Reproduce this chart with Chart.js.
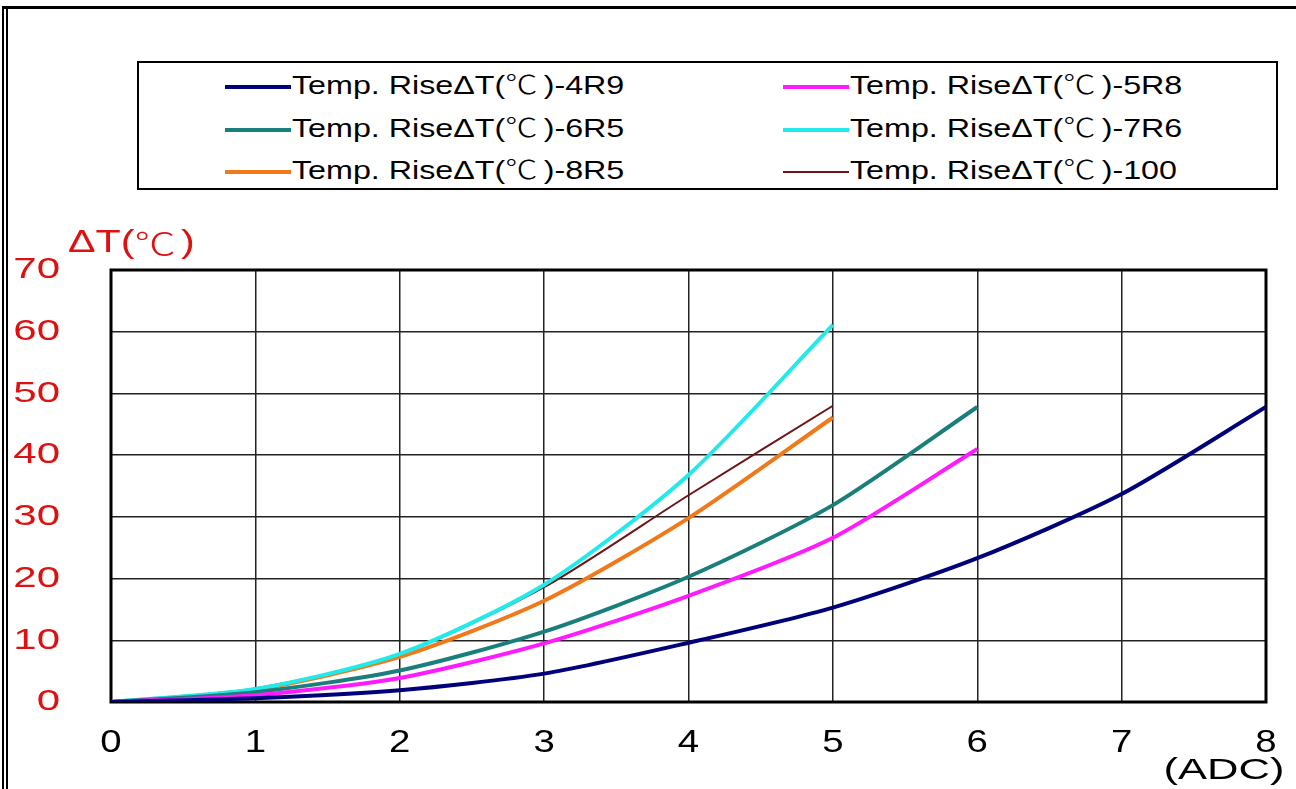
<!DOCTYPE html>
<html>
<head>
<meta charset="utf-8">
<script src="https://cdn.jsdelivr.net/npm/chart.js"></script>
<style>
  html, body { margin: 0; padding: 0; background: #fff; }
  #wrap { position: relative; width: 1296px; height: 789px; }
  #legend {
    position: absolute; left: 137px; top: 61px; width: 1137px; height: 125px;
    border: 2px solid #000; background: #fff;
    font-family: "Liberation Sans", Arial, sans-serif; font-size: 26px; color: #000;
  }
  .item { position: absolute; height: 30px; line-height: 30px; white-space: nowrap; }
  .item span.ln { display: inline-block; width: 66px; vertical-align: middle; margin-right: 1px; }
  .item span.tx { display: inline-block; transform: scaleX(1.24); transform-origin: 0 50%; }
  .cel { font-family: "Noto Sans CJK SC", sans-serif; font-weight: 300; margin-right: 5px; }
</style>
</head>
<body>
<div id="wrap">
  <canvas id="canvas" width="1296" height="789"></canvas>
  <div id="legend"></div>
</div>
<script>
// current (ADC) and temperature rise values
let current = [0, 1, 2, 3, 4, 5, 6, 7, 8];
let names = ["4R9", "5R8", "6R5", "7R6", "8R5", "100"];
let rise4R9 = [0, 0.6, 1.9, 4.6, 9.6, 15.3, 23.3, 33.7, 47.8];
let rise5R8 = [0, 1.1, 3.9, 9.5, 17.2, 26.6, 41.0];
let rise6R5 = [0, 1.6, 5.1, 11.4, 20.3, 31.9, 47.8];
let rise7R6 = [0, 2.1, 7.8, 19.0, 36.8, 61.1];
let rise8R5 = [0, 2.0, 7.3, 16.4, 29.8, 46.1];
let rise100 = [0, 2.2, 7.7, 18.6, 33.5, 48.0];
let yTicks = [0, 10, 20, 30, 40, 50, 60, 70];
let xTicks = [0, 1, 2, 3, 4, 5, 6, 7, 8];

let colors = ["#00007a", "#ff1aff", "#1a7f7a", "#22eaea", "#f07a1a", "#6e1414"];
let widths = [4, 4, 4, 4, 4, 2];
let series = [rise4R9, rise5R8, rise6R5, rise7R6, rise8R5, rise100];
let FONT = "'Liberation Sans', Arial, sans-serif";
let CJK = "'Noto Sans CJK SC', sans-serif";

function pts(vals){
  let out = [];
  for (var i = 0; i < vals.length; i++) {
    out.push({x: current[i], y: vals[i]});
  }
  return out;
}

let datasets = [];
for (var i = 0; i < series.length; i++) {
  datasets.push({
    label: "Temp. RiseΔT(℃)-" + names[i],
    data: pts(series[i]),
    borderColor: colors[i],
    backgroundColor: colors[i],
    borderWidth: widths[i],
    pointRadius: 0,
    tension: 0.25,
    fill: false
  });
}

// text drawn wider than normal, like the original picture
function wide(c, text, x, y, sx, align){
  c.save();
  c.translate(x, y);
  c.scale(sx, 1);
  c.textAlign = align;
  c.fillText(text, 0, 0);
  c.restore();
}

// ΔT(℃) with a full width ℃
function wideMixed(c, parts, x, y, sx, size){
  c.save();
  c.translate(x, y);
  c.scale(sx, 1);
  c.textAlign = "left";
  let px = 0;
  for (var i = 0; i < parts.length; i++) {
    c.font = (parts[i][1] ? "300 " + size + "px " + CJK : size + "px " + FONT);
    c.fillText(parts[i][0], px, 0);
    px += c.measureText(parts[i][0]).width + (parts[i][1] ? 4 : 0);
  }
  c.restore();
}

let extras = {
  id: "extras",
  beforeDatasetsDraw(chart){
    let c = chart.ctx, a = chart.chartArea;
    c.save();
    c.strokeStyle = "#000";
    c.lineWidth = 3;
    c.strokeRect(a.left, a.top, a.right - a.left, a.bottom - a.top);
    c.restore();
  },
  afterDraw(chart){
    let c = chart.ctx;
    let xs = chart.scales.x, ys = chart.scales.y;
    c.save();
    // outer frame
    c.fillStyle = "#000";
    c.fillRect(3, 6, 1293, 3);
    c.fillRect(2, 6, 2, 783);
    c.fillRect(6, 9, 2, 780);
    c.textBaseline = "middle";
    // y tick labels
    c.fillStyle = "#dd1111";
    c.font = "30px " + FONT;
    for (var i = 0; i < yTicks.length; i++) {
      wide(c, String(yTicks[i]), 60, ys.getPixelForValue(yTicks[i]), 1.4, "right");
    }
    // x tick labels
    c.fillStyle = "#000";
    c.font = "32px " + FONT;
    for (var j = 0; j < xTicks.length; j++) {
      wide(c, String(xTicks[j]), xs.getPixelForValue(xTicks[j]), 743, 1.2, "center");
    }
    // axis titles
    c.fillStyle = "#dd1111";
    wideMixed(c, [["ΔT(", false], ["℃", true], [")", false]], 68, 243, 1.33, 31);
    c.fillStyle = "#000";
    c.font = "30px " + FONT;
    wide(c, "(ADC)", 1224, 771, 1.45, "center");
    c.restore();
  }
};

let ctx = document.getElementById("canvas").getContext("2d");
let grafica = new Chart(ctx, {
  type: "line",
  data: { datasets: datasets },
  options: {
    responsive: false,
    animation: false,
    layout: { padding: { top: 270, right: 30, left: 0, bottom: 0 } },
    plugins: { legend: { display: false }, tooltip: { enabled: false } },
    scales: {
      x: {
        type: "linear", min: 0, max: 8,
        afterFit: (s) => { s.height = 87; },
        afterBuildTicks: (s) => { s.ticks = xTicks.map(v => ({value: v})); },
        grid: { color: "#222", lineWidth: 1.5, drawTicks: false },
        border: { display: false },
        ticks: { display: false }
      },
      y: {
        type: "linear", min: 0, max: 70,
        afterFit: (s) => { s.width = 111; },
        afterBuildTicks: (s) => { s.ticks = yTicks.map(v => ({value: v})); },
        grid: { color: "#222", lineWidth: 1.5, drawTicks: false },
        border: { display: false },
        ticks: { display: false }
      }
    }
  },
  plugins: [extras]
});

// legend box built from the datasets
function legend(){
  let box = document.getElementById("legend");
  let cols = [86, 644];
  let rows = [5, 48, 90];
  let html = "";
  for (var i = 0; i < grafica.data.datasets.length; i++) {
    let d = grafica.data.datasets[i];
    let txt = d.label.replace("℃", "<span class='cel'>℃</span>");
    html += "<div class='item' style='left:" + cols[i % 2] + "px;top:" + rows[Math.floor(i / 2)] + "px'>" +
      "<span class='ln' style='border-top:" + d.borderWidth + "px solid " + d.borderColor + "'></span>" +
      "<span class='tx'>" + txt + "</span></div>";
  }
  box.innerHTML = html;
}
legend();
</script>
</body>
</html>
